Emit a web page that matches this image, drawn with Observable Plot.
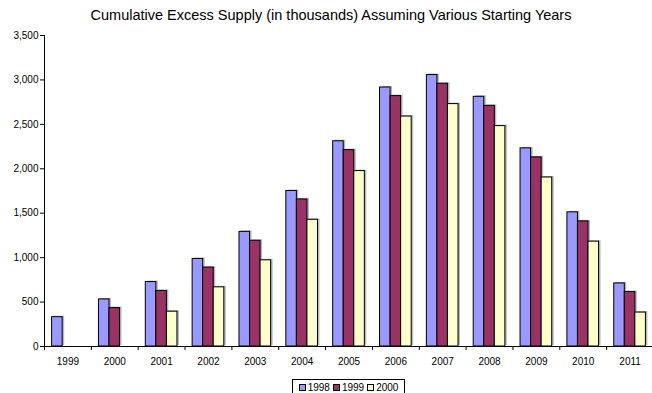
<!DOCTYPE html>
<html>
<head>
<meta charset="utf-8">
<script src="https://cdn.jsdelivr.net/npm/d3@7"></script>
<script src="https://cdn.jsdelivr.net/npm/@observablehq/plot@0.6"></script>
<style>
  html, body { margin: 0; padding: 0; background: #fff; }
  #wrap { position: relative; width: 652px; height: 393px; overflow: hidden; font-family: "Liberation Sans", Arial, sans-serif; }
  #title { position: absolute; left: 0; top: 7px; width: 662px; text-align: center; font-size: 14.5px; color: #000; white-space: nowrap; }
  #chart { position: absolute; left: 0; top: 0; }
  #legend { position: absolute; left: 292px; top: 379px; width: 113px; height: 16px; border: 1px solid #000; font-size: 10px; display: flex; align-items: center; justify-content: center; gap: 3px; box-sizing: border-box; }
  .item { display: flex; align-items: center; gap: 2px; }
  .sw { width: 5px; height: 5px; border: 1px solid #000; }
</style>
</head>
<body>
<div id="wrap">
  <div id="chart"></div>
  <div id="title">Cumulative Excess Supply (in thousands) Assuming Various Starting Years</div>
  <div id="legend"></div>
</div>
<script>
const years = ["1999","2000","2001","2002","2003","2004","2005","2006","2007","2008","2009","2010","2011"];
const seriesNames = ["1998","1999","2000"];
const v1998 = [330, 530, 725, 985, 1290, 1750, 2310, 2915, 3055, 2810, 2230, 1510, 710];
const v1999 = [null, 432, 625, 888, 1190, 1655, 2210, 2818, 2957, 2708, 2128, 1408, 613];
const v2000 = [null, null, 392, 666, 970, 1426, 1974, 2588, 2728, 2480, 1902, 1180, 382];
const yTicks = [0, 500, 1000, 1500, 2000, 2500, 3000, 3500];
const colors = ["#9999FF", "#993366", "#FFFFCC"];

const seriesValues = [v1998, v1999, v2000];
const data = [];
years.forEach((yr, i) => {
  seriesNames.forEach((s, k) => {
    const v = seriesValues[k][i];
    if (v != null) data.push({year: yr, series: s, value: v});
  });
});

const W = 652, ML = 44, MR = 0;
const bw = (W + 1 - ML - MR) / years.length;

const chart = Plot.plot({
  width: W,
  height: 372,
  marginTop: 35,
  marginBottom: 26,
  marginLeft: ML,
  marginRight: MR,
  style: {fontFamily: "'Liberation Sans', Arial, sans-serif", fontSize: "10px", color: "#000", background: "transparent", overflow: "visible"},
  fx: {domain: years, padding: 0, round: false, range: [ML, W + 1], label: null, axis: null},
  x: {domain: seriesNames, paddingInner: 0, paddingOuter: 0.72, round: false, axis: null},
  y: {domain: [0, 3500], label: null},
  color: {domain: seriesNames, range: colors},
  marks: [
    Plot.barY(data, {fx: "year", x: "series", y: "value", fill: "#888", fillOpacity: 0.6, dx: 2, dy: -1, inset: 0}),
    Plot.barY(data, {fx: "year", x: "series", y: "value", fill: "series", stroke: "#000", strokeWidth: 1, inset: 0}),
    Plot.ruleY([0], {stroke: "#000"}),
    Plot.axisY({ticks: yTicks, tickSize: 4, tickPadding: 2, tickFormat: d3.format(","), label: null}),
    Plot.axisFx({anchor: "bottom", tickSize: 0, tickPadding: 11, label: null}),
    Plot.axisFx({anchor: "bottom", tickSize: 4, text: null, label: null, dx: -bw / 2}),
    Plot.frame({anchor: "left", facetAnchor: "left", stroke: "#000"})
  ]
});
document.getElementById("chart").appendChild(chart);

const legend = document.getElementById("legend");
seriesNames.forEach((s, k) => {
  const it = document.createElement("span");
  it.className = "item";
  const sw = document.createElement("span");
  sw.className = "sw";
  sw.style.background = colors[k];
  const t = document.createElement("span");
  t.textContent = s;
  it.appendChild(sw);
  it.appendChild(t);
  legend.appendChild(it);
});
</script>
</body>
</html>
